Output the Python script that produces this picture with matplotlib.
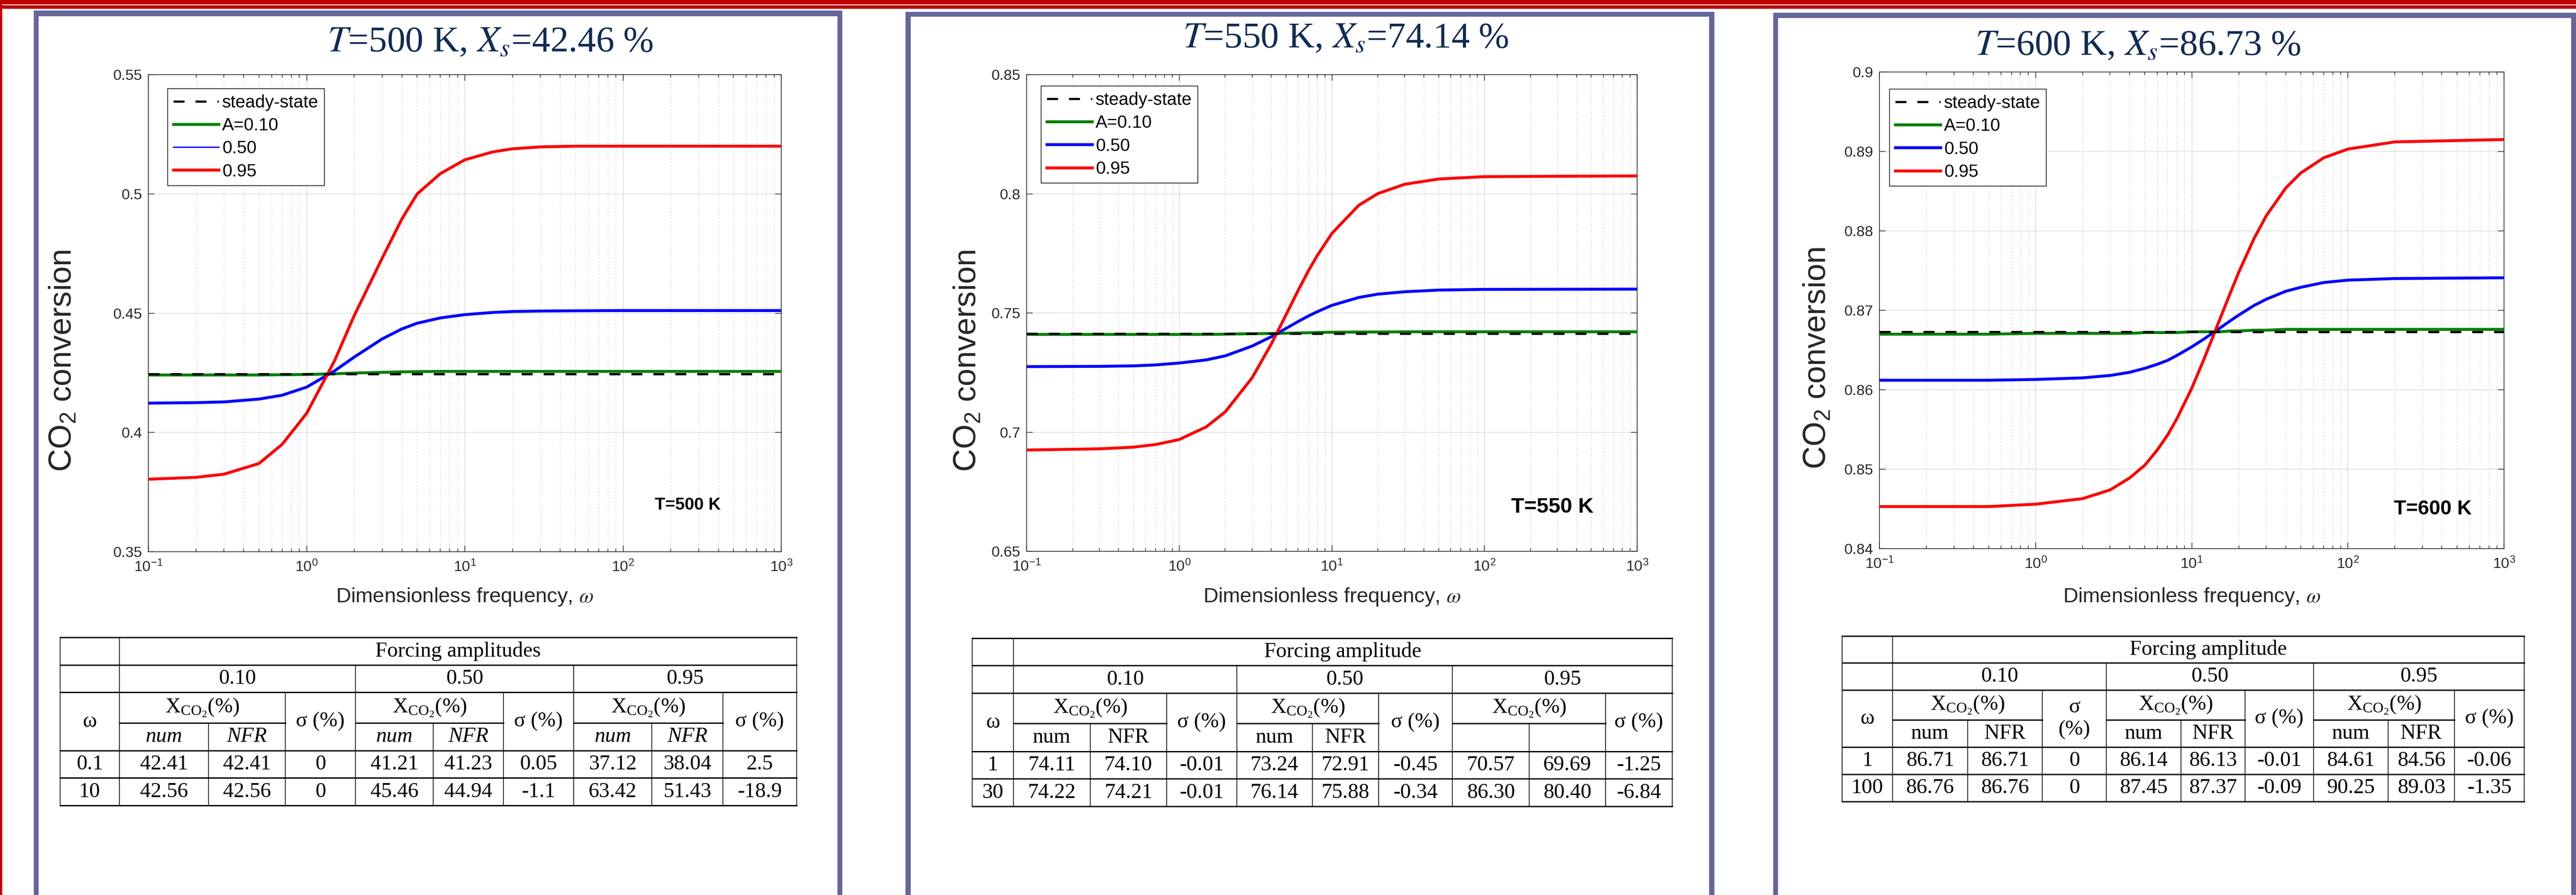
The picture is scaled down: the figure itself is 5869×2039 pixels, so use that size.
from __future__ import annotations

import matplotlib
matplotlib.use("Agg")
import matplotlib.pyplot as plt
from matplotlib.lines import Line2D
from matplotlib.patches import Rectangle
from matplotlib.ticker import FixedLocator, FuncFormatter, LogLocator, NullFormatter

W, H, DPI = 5869, 2039, 100

plt.rcParams["font.family"] = ["Liberation Sans", "DejaVu Sans"]
plt.rcParams["mathtext.default"] = "regular"

# ---------------- curve data ----------------
amp_labels = ["A=0.10", "0.50", "0.95"]

omega_500 = [0.1, 0.2, 0.3, 0.5, 0.7, 1, 1.5, 2, 3, 4, 5, 7, 10, 15, 20, 30, 50, 100, 1000]
green_500 = [0.4241, 0.4241, 0.4241, 0.4241, 0.4242, 0.4243, 0.4246, 0.4249, 0.4252, 0.4254,
             0.4255, 0.4256, 0.4256, 0.4256, 0.4256, 0.4256, 0.4256, 0.4256, 0.4256]
blue_500 = [0.4123, 0.4125, 0.4128, 0.4140, 0.4156, 0.4190, 0.4258, 0.4316, 0.4392, 0.4434,
            0.4458, 0.4480, 0.4494, 0.4503, 0.4507, 0.4509, 0.4510, 0.4511, 0.4511]
red_500 = [0.3804, 0.3812, 0.3825, 0.3870, 0.3950, 0.4080, 0.4300, 0.4490, 0.4730, 0.4895,
           0.5000, 0.5085, 0.5143, 0.5176, 0.5189, 0.5197, 0.5200, 0.5200, 0.5200]
steady_500 = 0.4246

omega_550 = [0.1, 0.3, 0.5, 0.7, 1, 1.5, 2, 3, 4, 5, 6, 7, 8, 10, 15, 20, 30, 50, 100, 1000]
green_550 = [0.7410, 0.7410, 0.7410, 0.7410, 0.7410, 0.7410, 0.7411, 0.7413, 0.7414, 0.7415,
             0.7416, 0.7417, 0.7418, 0.7419, 0.7420, 0.7420, 0.7421, 0.7421, 0.7421, 0.7421]
blue_550 = [0.7275, 0.7276, 0.7278, 0.7282, 0.7290, 0.7303, 0.7320, 0.7361, 0.7400, 0.7435,
            0.7464, 0.7487, 0.7505, 0.7532, 0.7565, 0.7579, 0.7589, 0.7596, 0.7599, 0.7600]
red_550 = [0.6925, 0.6930, 0.6937, 0.6948, 0.6969, 0.7022, 0.7085, 0.7228, 0.7369, 0.7492,
           0.7594, 0.7676, 0.7740, 0.7834, 0.7952, 0.8001, 0.8040, 0.8062, 0.8072, 0.8075]
steady_550 = 0.7414

omega_600 = [0.1, 0.5, 1, 2, 3, 4, 5, 6, 7, 8, 10, 12, 15, 18, 20, 25, 30, 40, 50, 70,
             100, 200, 1000]
green_600 = [0.8670, 0.8670, 0.8671, 0.8671, 0.8671, 0.8671, 0.8672, 0.8672, 0.8672, 0.8672,
             0.8673, 0.8673, 0.8673, 0.8674, 0.8674, 0.8675, 0.8675, 0.8676, 0.8676, 0.8676,
             0.8676, 0.8676, 0.8676]
blue_600 = [0.8612, 0.8612, 0.8613, 0.8615, 0.8618, 0.8622, 0.8627, 0.8632, 0.8637, 0.8643,
            0.8654, 0.8664, 0.8677, 0.8688, 0.8694, 0.8706, 0.8714, 0.8724, 0.8729, 0.8735,
            0.8738, 0.8740, 0.8741]
red_600 = [0.8453, 0.8453, 0.8456, 0.8463, 0.8474, 0.8489, 0.8505, 0.8524, 0.8543, 0.8563,
           0.8602, 0.8639, 0.8687, 0.8726, 0.8748, 0.8790, 0.8819, 0.8854, 0.8873, 0.8892,
           0.8903, 0.8912, 0.8915]
steady_600 = 0.8673

yticks_500 = [0.35, 0.4, 0.45, 0.5, 0.55]
yticks_550 = [0.65, 0.7, 0.75, 0.8, 0.85]
yticks_600 = [0.84, 0.85, 0.86, 0.87, 0.88, 0.89, 0.9]

# ---------------- table data ----------------
group_labels = ["0.10", "0.50", "0.95"]
table_500_header = "Forcing amplitudes"
table_500_omega = ["0.1", "10"]
table_500_vals = [["42.41", "42.41", "0", "41.21", "41.23", "0.05", "37.12", "38.04", "2.5"],
                  ["42.56", "42.56", "0", "45.46", "44.94", "-1.1", "63.42", "51.43", "-18.9"]]
table_550_header = "Forcing amplitude"
table_550_omega = ["1", "30"]
table_550_vals = [["74.11", "74.10", "-0.01", "73.24", "72.91", "-0.45", "70.57", "69.69", "-1.25"],
                  ["74.22", "74.21", "-0.01", "76.14", "75.88", "-0.34", "86.30", "80.40", "-6.84"]]
table_600_header = "Forcing amplitude"
table_600_omega = ["1", "100"]
table_600_vals = [["86.71", "86.71", "0", "86.14", "86.13", "-0.01", "84.61", "84.56", "-0.06"],
                  ["86.76", "86.76", "0", "87.45", "87.37", "-0.09", "90.25", "89.03", "-1.35"]]

SLATE = "#666699"
RED = "#c00000"
NAVY = "#102b54"
AXC = "#262626"
LINE_COLORS = ["#008000", "#0000ff", "#ff0000"]


def fig_rect(x0, y0, x1, y1):
    return [x0 / W, 1 - y1 / H, (x1 - x0) / W, (y1 - y0) / H]


def draw_panel(fig, box, omega, curves, steady, ylim, yticks, tag, tag_size, tag_pos, leg_pos,
               ylab_off, thin_blue_key=False):
    x0, y0, x1, y1 = box
    ax = fig.add_axes(fig_rect(x0, y0, x1, y1))
    ax.set_xscale("log")
    ss = ax.axhline(steady, color="black", lw=3.6, dashes=(5, 5), zorder=5)
    handles = [ss]
    for vals, col in zip(curves, LINE_COLORS):
        (ln,) = ax.plot(omega, vals, color=col, lw=4.8, zorder=4)
        handles.append(ln)
    if thin_blue_key:
        handles[2] = Line2D([], [], color=LINE_COLORS[1], lw=2.2)
    ax.set_xlim(0.1, 1000)
    ax.set_ylim(*ylim)
    ax.yaxis.set_major_locator(FixedLocator(yticks))
    ax.yaxis.set_major_formatter(FuncFormatter(lambda v, p: f"{v:g}"))
    ax.xaxis.set_major_locator(LogLocator(base=10, numticks=10))
    ax.xaxis.set_minor_locator(LogLocator(base=10, subs=range(2, 10), numticks=20))
    ax.xaxis.set_minor_formatter(NullFormatter())
    ax.tick_params(which="both", direction="in", top=True, right=True, colors=AXC,
                   labelsize=24.5, width=1.1)
    ax.tick_params(which="major", length=10)
    ax.tick_params(which="minor", length=5)
    ax.tick_params(axis="x", pad=13)
    ax.tick_params(axis="y", pad=10)
    for s in ax.spines.values():
        s.set_color(AXC)
        s.set_linewidth(1.2)
    ax.grid(True, which="major", color="#dadada", lw=1.1, ls="-")
    ax.grid(True, which="minor", axis="x", color="#d2d2d2", lw=0.9, ls=(0, (3, 3)))
    ax.set_axisbelow(True)
    ax.set_xlabel(r"Dimensionless frequency, $\mathit{\omega}$", fontsize=34, color=AXC,
                  math_fontfamily="stix")
    ax.xaxis.set_label_coords(0.5, -(1336 - y1) / (y1 - y0))
    ax.set_ylabel("CO$_2$ conversion", fontsize=52, color=AXC)
    ax.yaxis.set_label_coords(-ylab_off / (x1 - x0), 0.40)
    ax.text(tag_pos[0], tag_pos[1], tag, transform=ax.transAxes, fontsize=tag_size,
            fontweight="bold", ha="center", va="center", color="black")
    leg = ax.legend(handles, ["steady-state"] + amp_labels, loc="upper left",
                    bbox_to_anchor=leg_pos, fontsize=29, frameon=True, fancybox=False,
                    edgecolor=AXC, framealpha=1, borderpad=0.33, labelspacing=0.35,
                    handlelength=2.55, handletextpad=0.2, borderaxespad=0)
    leg.get_frame().set_linewidth(1.3)
    return ax


def draw_table(ov, cols, rows, header, omegas, values, sub_labels, sigma_labels, italic_sub):
    c, r = cols, rows
    hw, vw = 2.2, 1.2
    k = dict(color="black", solid_capstyle="projecting", zorder=3)
    for y in (r[0], r[1], r[2], r[4], r[5], r[6]):
        ov.plot([c[0], c[10]], [y, y], lw=hw, **k)
    for a, b in ((1, 3), (4, 6), (7, 9)):
        ov.plot([c[a], c[b]], [r[3], r[3]], lw=hw, **k)
    for x in (c[0], c[1], c[10]):
        ov.plot([x, x], [r[0], r[6]], lw=vw, **k)
    for x in (c[4], c[7]):
        ov.plot([x, x], [r[1], r[6]], lw=vw, **k)
    for x in (c[3], c[6], c[9]):
        ov.plot([x, x], [r[2], r[6]], lw=vw, **k)
    for x in (c[2], c[5], c[8]):
        ov.plot([x, x], [r[3], r[6]], lw=vw, **k)

    fs = 35

    def cell(xa, xb, ya, yb, s, style="normal"):
        ov.text((xa + xb) / 2, (ya + yb) / 2, s, ha="center", va="center", fontsize=fs,
                family="Liberation Serif", style=style, color="black", linespacing=1.25)

    cell(c[1], c[10], r[0], r[1], header)
    for g in range(3):
        a = 1 + 3 * g
        cell(c[a], c[a + 3], r[1], r[2], group_labels[g])
        cell(c[a], c[a + 2], r[2], r[3], r"X$_{CO_2}$(%)")
        cell(c[a + 2], c[a + 3], r[2], r[4], sigma_labels[g])
        cell(c[a], c[a + 1], r[3], r[4], sub_labels[g][0], "italic" if italic_sub else "normal")
        cell(c[a + 1], c[a + 2], r[3], r[4], sub_labels[g][1], "italic" if italic_sub else "normal")
    cell(c[0], c[1], r[2], r[4], "ω")
    for i in range(2):
        cell(c[0], c[1], r[4 + i], r[5 + i], omegas[i])
        for j in range(9):
            cell(c[1 + j], c[2 + j], r[4 + i], r[5 + i], values[i][j])


fig = plt.figure(figsize=(W / DPI, H / DPI), dpi=DPI)
fig.patch.set_facecolor("white")

ov = fig.add_axes([0, 0, 1, 1], zorder=-1)
ov.set_xlim(0, W)
ov.set_ylim(H, 0)
ov.axis("off")

# red slide banner and left edge
ov.add_patch(Rectangle((0, 0), W, 20, color=RED, lw=0))
ov.add_patch(Rectangle((0, 10), W, 2, color="white", lw=0))
ov.add_patch(Rectangle((0, 0), 5, H, color=RED, lw=0))

# slate frames (left, right, top band)
for fx0, fx1, fy0, band, side in [(77, 1919, 24, 13, 11), (2063, 3906, 27, 11, 12),
                                  (4040, 5869, 29, 12, 11)]:
    ov.add_patch(Rectangle((fx0, fy0), fx1 - fx0, band, color=SLATE, lw=0))
    ov.add_patch(Rectangle((fx0, fy0), side, H - fy0, color=SLATE, lw=0))
    ov.add_patch(Rectangle((fx1 - side, fy0), side, H - fy0, color=SLATE, lw=0))

# titles
for cx, by, t, xs in [(1117, 117, "500", "42.46"), (3066, 108, "550", "74.14"),
                      (4871, 125, "600", "86.73")]:
    ov.text(cx, by, rf"$\mathit{{T}}$={t} K, $\mathit{{X_s}}$={xs} %", ha="center",
            va="baseline", fontsize=60, color=NAVY, family="Liberation Serif",
            math_fontfamily="stix")

draw_panel(fig, (338, 170, 1780, 1257), omega_500, [green_500, blue_500, red_500], steady_500,
           (0.35, 0.55), yticks_500, "T=500 K", 28, (0.852, 0.0975), (0.0305, 0.9706), 160,
           thin_blue_key=True)
draw_panel(fig, (2339, 170, 3730, 1256), omega_550, [green_550, blue_550, red_550], steady_550,
           (0.65, 0.85), yticks_550, "T=550 K", 35, (0.861, 0.093), (0.0237, 0.976), 100)
draw_panel(fig, (4282, 164, 5705, 1250), omega_600, [green_600, blue_600, red_600], steady_600,
           (0.84, 0.90), yticks_600, "T=600 K", 33, (0.886, 0.083), (0.0162, 0.964), 107)

draw_table(ov, [137, 272, 475, 650, 810, 987, 1147, 1307, 1485, 1647, 1815],
           [1452, 1515, 1577, 1647, 1710, 1772, 1835], table_500_header, table_500_omega,
           table_500_vals, [("num", "NFR")] * 3, ["σ (%)"] * 3, True)
draw_table(ov, [2215, 2309, 2484, 2658, 2818, 2990, 3141, 3309, 3484, 3658, 3810],
           [1454, 1516, 1579, 1648, 1712, 1774, 1837], table_550_header, table_550_omega,
           table_550_vals, [("num", "NFR"), ("num", "NFR"), ("", "")], ["σ (%)"] * 3, False)
draw_table(ov, [4197, 4312, 4483, 4653, 4799, 4969, 5115, 5271, 5441, 5592, 5751],
           [1449, 1510, 1572, 1640, 1702, 1764, 1826], table_600_header, table_600_omega,
           table_600_vals, [("num", "NFR")] * 3, ["σ\n(%)", "σ (%)", "σ (%)"], False)

fig.savefig("out.png", dpi=DPI, facecolor="white")
